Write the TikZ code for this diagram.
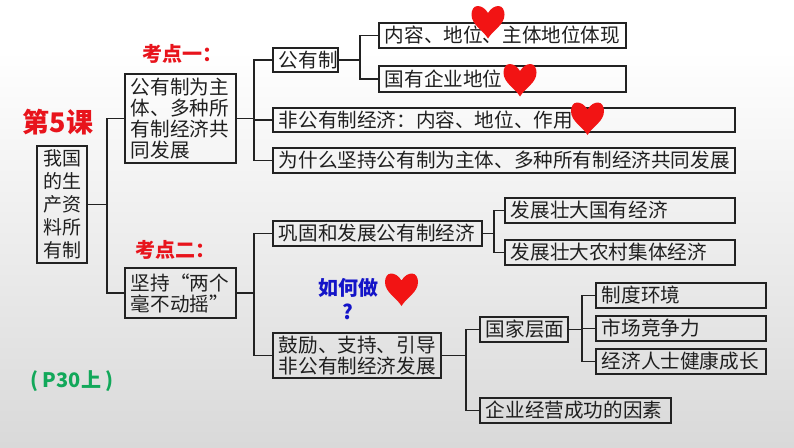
\documentclass[tikz,border=0pt]{standalone}
\usepackage{fontspec}
\setmainfont{Noto Sans CJK SC}
\definecolor{bgbot}{HTML}{D9D9D9}
\definecolor{linec}{HTML}{222222}
\definecolor{heartred}{HTML}{F21414}
\definecolor{titlered}{HTML}{E8141C}
\definecolor{askblue}{HTML}{1414C8}
\definecolor{pagegreen}{HTML}{12A85A}
\tikzset{
  mapbox/.style n args={2}{draw=linec,line width=1.6pt,anchor=north west,
    inner xsep=6pt,inner ysep=0pt,align=left,text width=#1pt-13.6pt,minimum height=#2pt-1.6pt,
    font=\fontsize{19.6}{21}\selectfont,text=black!88},
  link/.style={draw=linec,line width=1.6pt},
  redtitle/.style={text=titlered,font=\bfseries\fontsize{20}{22}\selectfont,inner sep=0pt},
  heartshape/.style={fill=heartred,draw=none}
}
\newcommand{\heartat}[2]{%
  \fill[heartshape,shift={(#1,#2)}] (0,-9) .. controls (-3,-14) and (-7,-16) .. (-10.5,-16)
   .. controls (-14.5,-16) and (-16.5,-11.5) .. (-16.5,-7.5)
   .. controls (-16.5,3) and (-5,8) .. (0,16.5)
   .. controls (5,8) and (16.5,3) .. (16.5,-7.5)
   .. controls (16.5,-11.5) and (14.5,-16) .. (10.5,-16)
   .. controls (7,-16) and (3,-14) .. (0,-9) -- cycle;}
\begin{document}
\begin{tikzpicture}[x=1pt,y=-1pt]
\useasboundingbox (0,0) rectangle (794,447);
\fill[white] (0,0) rectangle (794,50);
\shade[top color=white,bottom color=bgbot] (0,50) rectangle (794,447);

\node[mapbox={52}{119},align=center,font=\fontsize{19}{23}\selectfont] (lesson) at (36,145) {我国\\的生\\产资\\料所\\有制};
\node[mapbox={113}{91}] (one) at (124,73) {公有制为主\\体、多种所\\有制经济共\\同发展};
\node[mapbox={113}{52}] (two) at (124,267) {坚持“两个\\毫不动摇”};
\node[mapbox={67}{26}] (pub) at (272,47) {公有制};
\node[mapbox={249}{27}] (pubA) at (378,22) {内容、地位、主体地位体现};
\node[mapbox={249}{28}] (pubB) at (378,65) {国有企业地位};
\node[mapbox={464}{26}] (nonpub) at (272,107) {非公有制经济：内容、地位、作用};
\node[mapbox={464}{27}] (why) at (272,147) {为什么坚持公有制为主体、多种所有制经济共同发展};
\node[mapbox={211}{27}] (solid) at (272,220) {巩固和发展公有制经济};
\node[mapbox={232}{27}] (solidA) at (504,197) {发展壮大国有经济};
\node[mapbox={232}{27}] (solidB) at (504,239) {发展壮大农村集体经济};
\node[mapbox={170}{47}] (enc) at (272,332) {鼓励、支持、引导\\非公有制经济发展};
\node[mapbox={90}{27}] (state) at (479,316) {国家层面};
\node[mapbox={172}{27}] (sysenv) at (595,282) {制度环境};
\node[mapbox={172}{27}] (market) at (595,315) {市场竞争力};
\node[mapbox={172}{27}] (people) at (595,348) {经济人士健康成长};
\node[mapbox={193}{27}] (firm) at (479,397) {企业经营成功的因素};

\coordinate (t0) at (107,0);
\coordinate (t1) at (254,0);
\coordinate (t2) at (360,0);
\coordinate (t3) at (494,0);
\coordinate (t4) at (466,0);
\coordinate (t5) at (582,0);

\draw[link] (lesson.east) -- (lesson.east -| t0);
\draw[link] (one.west) -| (t0 |- lesson.east) |- (two.west);
\draw[link] (one.east) -- (one.east -| t1);
\draw[link] (pub.west) -| (t1 |- one.east) |- (why.west);
\draw[link] (t1 |- nonpub.west) -- (nonpub.west);
\draw[link] (pub.east) -- (pub.east -| t2);
\draw[link] (pubA.west) -| (t2 |- pub.east) |- (pubB.west);
\draw[link] (two.east) -- (two.east -| t1);
\draw[link] (solid.west) -| (t1 |- two.east) |- (enc.west);
\draw[link] (solid.east) -- (solid.east -| t3);
\draw[link] (solidA.west) -| (t3 |- solid.east) |- (solidB.west);
\draw[link] (enc.east) -- (enc.east -| t4);
\draw[link] (state.west) -| (t4 |- enc.east) |- (firm.west);
\draw[link] (state.east) -- (state.east -| t5);
\draw[link] (sysenv.west) -| (t5 |- state.east) |- (people.west);
\draw[link] (t5 |- market.west) -- (market.west);

\node[redtitle,font=\bfseries\fontsize{27}{29}\selectfont] (lessontitle) at (58,122) {第5课};
\node[redtitle] (kaoA) at (182,54) {考点一：};
\node[redtitle] (kaoB) at (175,250) {考点二：};
\node[text=askblue,font=\bfseries\fontsize{20}{22}\selectfont,inner sep=0pt] (ask) at (348,288) {如何做};
\node[text=askblue,font=\bfseries\fontsize{20}{22}\selectfont,inner sep=0pt] (askq) at (348,312) {?};
\node[text=pagegreen,font=\bfseries\fontsize{20}{22}\selectfont,inner sep=0pt] (page) at (72,381) {( P30上 )};

\heartat{488}{22}
\heartat{520}{80}
\heartat{587.5}{118.5}
\heartat{401.5}{289.5}
\end{tikzpicture}
\end{document}
